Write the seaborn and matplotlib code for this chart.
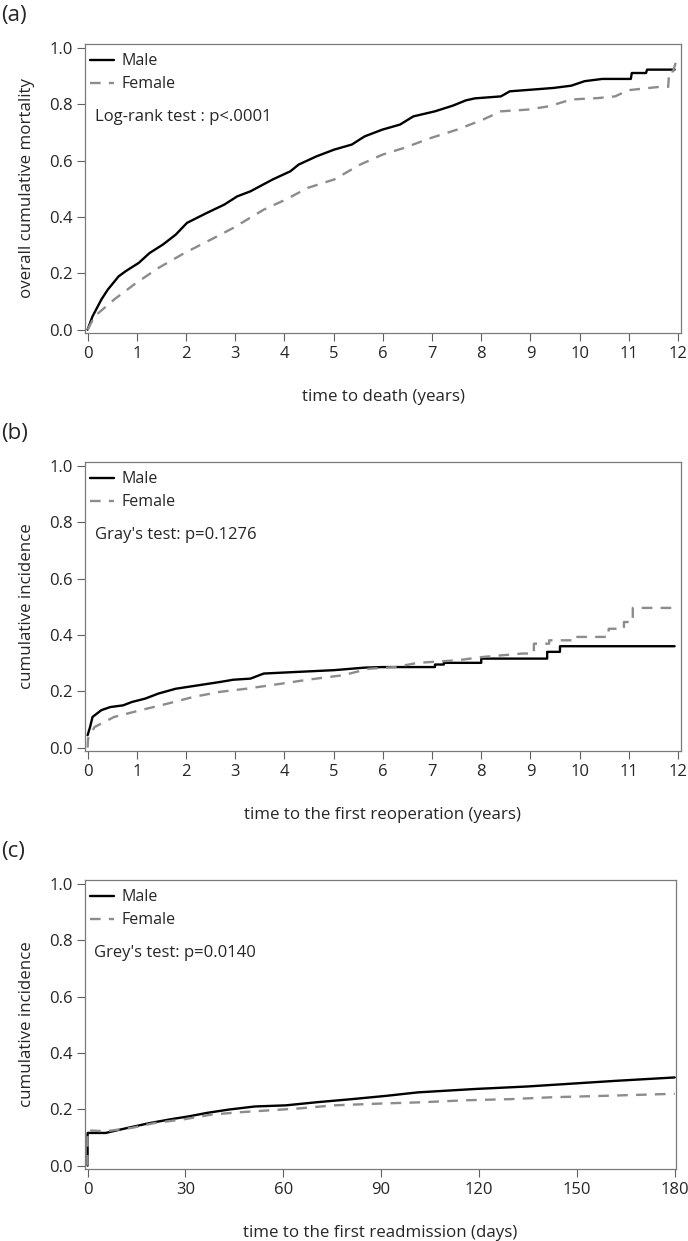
import numpy as np
import pandas as pd
import seaborn as sns
import matplotlib.pyplot as plt

# panel (a): overall cumulative mortality, years
a_male_t = [0, 0.1, 0.28, 0.41, 0.63, 0.77, 1.04, 1.26, 1.53, 1.79, 2.02, 2.42, 2.78, 3.04, 3.31, 3.76,
            4.12, 4.29, 4.65, 5.01, 5.37, 5.63, 5.99, 6.35, 6.62, 7.06, 7.42, 7.69, 7.87, 8.4, 8.58,
            9.03, 9.47, 9.83, 10.1, 10.46, 11.04, 11.06, 11.35, 11.37, 11.93]
a_male_y = [0, 0.047, 0.107, 0.142, 0.189, 0.207, 0.237, 0.272, 0.302, 0.337, 0.379, 0.414, 0.444, 0.473,
            0.491, 0.533, 0.562, 0.586, 0.615, 0.639, 0.657, 0.686, 0.710, 0.728, 0.757, 0.775, 0.795,
            0.814, 0.821, 0.828, 0.846, 0.852, 0.858, 0.866, 0.882, 0.890, 0.890, 0.911, 0.911, 0.923,
            0.923]
a_fem_t = [0, 0.14, 0.54, 0.99, 1.44, 1.97, 2.51, 2.96, 3.58, 4.03, 4.47, 5.01, 5.54, 5.99, 6.43, 6.97,
           7.51, 8.04, 8.4, 8.94, 9.38, 9.83, 10.37, 10.72, 10.99, 11.63, 11.8, 11.82, 11.9, 11.97]
a_fem_y = [0, 0.047, 0.107, 0.166, 0.219, 0.272, 0.320, 0.361, 0.426, 0.462, 0.503, 0.533, 0.586, 0.621,
           0.645, 0.680, 0.710, 0.746, 0.775, 0.781, 0.793, 0.817, 0.822, 0.828, 0.850, 0.862, 0.862,
           0.917, 0.917, 0.959]

# panel (b): first reoperation, years
b_male_t = [0, 0.05, 0.1, 0.28, 0.46, 0.72, 0.9, 1.17, 1.44, 1.79, 2.24, 2.69, 2.96, 3.31, 3.58, 4.29,
            5.01, 5.63, 5.99, 7.06, 7.06, 7.24, 7.24, 8.0, 8.0, 9.34, 9.34, 9.6, 9.6, 11.93]
b_male_y = [0.044, 0.073, 0.109, 0.133, 0.144, 0.150, 0.162, 0.174, 0.192, 0.209, 0.221, 0.233, 0.241,
            0.245, 0.263, 0.269, 0.275, 0.284, 0.286, 0.286, 0.295, 0.295, 0.301, 0.301, 0.316, 0.316,
            0.340, 0.340, 0.360, 0.360]
b_fem_t = [0, 0.01, 0.14, 0.54, 1.08, 1.62, 2.15, 2.69, 3.22, 3.94, 4.47, 5.19, 5.72, 6.26, 6.71, 7.51,
           8.04, 8.84, 9.07, 9.07, 9.38, 9.38, 9.9, 9.9, 10.59, 10.59, 10.9, 10.9, 11.08, 11.08, 11.97]
b_fem_y = [0, 0.032, 0.073, 0.109, 0.133, 0.156, 0.180, 0.198, 0.209, 0.227, 0.241, 0.257, 0.280, 0.286,
           0.301, 0.310, 0.322, 0.334, 0.334, 0.369, 0.369, 0.381, 0.381, 0.393, 0.393, 0.422, 0.422,
           0.446, 0.446, 0.496, 0.496]

# panel (c): first readmission, days
c_male_t = [0, 0, 5.5, 12.3, 19, 25.7, 31.1, 36.5, 43.3, 51.3, 60.8, 70.2, 81, 91.8, 101.2,
            118.7, 134.9, 148.4, 161.9, 180]
c_male_y = [0, 0.116, 0.116, 0.134, 0.151, 0.165, 0.175, 0.187, 0.199, 0.210, 0.214, 0.225, 0.236,
            0.248, 0.260, 0.272, 0.281, 0.291, 0.301, 0.313]
c_fem_t = [0, 0, 5.5, 13.6, 20.4, 29.8, 37.9, 46, 54, 64.8, 75.6, 89, 102.6, 116, 129.5, 143, 159.2, 180]
c_fem_y = [0, 0.125, 0.122, 0.134, 0.151, 0.165, 0.181, 0.189, 0.195, 0.203, 0.214, 0.220, 0.225, 0.232,
           0.236, 0.243, 0.248, 0.255]

groups = ['Male', 'Female']
panel_labels = ['(a)', '(b)', '(c)']
ylabels = ['overall cumulative mortality', 'cumulative incidence', 'cumulative incidence']
xlabels = ['time to death (years)', 'time to the first reoperation (years)',
           'time to the first readmission (days)']
notes = ['Log-rank test : p<.0001', "Gray's test: p=0.1276", "Grey's test: p=0.0140"]
year_ticks = list(range(0, 13))
day_ticks = [0, 30, 60, 90, 120, 150, 180]
y_ticks = [0.0, 0.2, 0.4, 0.6, 0.8, 1.0]

sns.set_style('white')
plt.rcParams['font.family'] = ['Open Sans', 'DejaVu Sans']

fig = plt.figure(figsize=(6.88, 12.41), dpi=100)
W, H = 688, 1241
boxes = [(85, 44, 681, 333), (85, 462, 681, 751), (85, 880, 676, 1169)]

data = [(a_male_t, a_male_y, a_fem_t, a_fem_y),
        (b_male_t, b_male_y, b_fem_t, b_fem_y),
        (c_male_t, c_male_y, c_fem_t, c_fem_y)]

for i in range(3):
    l, t, r, b = boxes[i]
    ax = fig.add_axes([l / W, 1 - b / H, (r - l) / W, (b - t) / H])
    mt, my, ft, fy = data[i]
    df = pd.concat([
        pd.DataFrame({'t': mt, 'y': my, 'sex': 'Male'}),
        pd.DataFrame({'t': ft, 'y': fy, 'sex': 'Female'}),
    ])
    sns.lineplot(data=df, x='t', y='y', hue='sex', style='sex', hue_order=groups, style_order=groups,
                 palette={'Male': 'black', 'Female': '#8c8c8c'},
                 dashes={'Male': '', 'Female': (4.5, 3.5)},
                 estimator=None, sort=False, linewidth=1.7, ax=ax)
    handles, labels = ax.get_legend_handles_labels()
    ax.legend(handles, labels, loc='upper left', frameon=False, fontsize=11.5,
              handlelength=1.5, handletextpad=0.45, labelspacing=0.45,
              borderpad=0.2, borderaxespad=0.0, bbox_to_anchor=(0.003, 1 - 6 / 289))
    ax.text(0.016, 0.747, notes[i], transform=ax.transAxes, fontsize=12, va='center', ha='left')

    if i < 2:
        ax.set_xlim(-0.053, 12.06)
        ax.set_xticks(year_ticks)
    else:
        ax.set_xlim(-0.8, 180.4)
        ax.set_xticks(day_ticks)
    ax.set_ylim(-0.012, 1.014)
    ax.set_yticks(y_ticks)
    ax.set_yticklabels(['%.1f' % v for v in y_ticks])

    ax.set_xlabel(xlabels[i], fontsize=12.2, labelpad=20)
    ax.set_ylabel(ylabels[i], fontsize=12.2, labelpad=10)
    ax.tick_params(axis='both', which='major', direction='out', length=6, width=0.8,
                   color='#606060', labelsize=12, pad=3, bottom=True, left=True)
    for s in ax.spines.values():
        s.set_color('#7a7a7a')
        s.set_linewidth(0.9)

    fig.text(1 / W, 1 - (t - 29) / H, panel_labels[i], fontsize=16, va='center', ha='left')

fig.savefig('out.png', dpi=100)
